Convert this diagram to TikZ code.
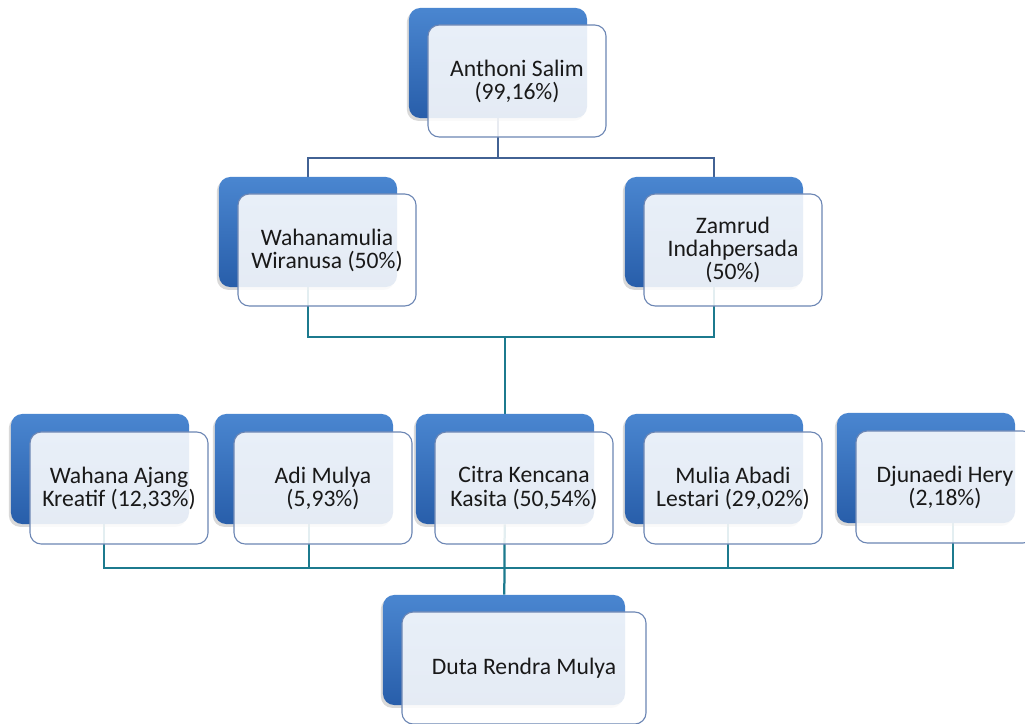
\documentclass[tikz,border=0pt]{standalone}
\usepackage{fontspec}
\setmainfont{Carlito}
\usetikzlibrary{calc,shadows,backgrounds}
\definecolor{boxblue}{RGB}{74,134,208}
\definecolor{boxdeep}{RGB}{40,94,170}
\definecolor{boxedge}{RGB}{108,134,180}
\definecolor{ownline}{RGB}{66,98,148}
\definecolor{subline}{RGB}{28,122,142}
\begin{document}
\begin{tikzpicture}[x=0.025cm,y=-0.025cm,
  back box/.style={rectangle,rounded corners=8pt,top color=boxblue,bottom color=boxdeep,
    minimum width=4.45cm,minimum height=2.75cm,
    drop shadow={shadow xshift=-1.5pt,shadow yshift=-2pt,opacity=0.3}},
  front box/.style={rectangle,rounded corners=8pt,draw=boxedge,line width=0.8pt,
    fill=white,fill opacity=0.88,text opacity=1,text=black!90,align=center,
    minimum width=4.45cm,minimum height=2.8cm,font=\fontsize{16.8}{16.4}\selectfont},
  own/.style={draw=ownline,line width=1.1pt},
  sub/.style={draw=subline,line width=1.6pt}]
  \useasboundingbox (0,0) rectangle (1025,723);
  \clip (0,0) rectangle (1025,723);
  % owner
  \node[back box] (anthoniB) at (498,63) {};
  \node[front box] (anthoni) at ([shift={(19,18)}]anthoniB.center) {Anthoni Salim\\(99,16\%)};
  % holding companies
  \node[back box] (wahanamuliaB) at (308,232) {};
  \node[front box] (wahanamulia) at ([shift={(19,18)}]wahanamuliaB.center) {Wahanamulia\\Wiranusa (50\%)};
  \node[back box] (zamrudB) at (714,232) {};
  \node[front box] (zamrud) at ([shift={(19,18)}]zamrudB.center) {Zamrud\\Indahpersada\\(50\%)};
  % shareholders
  \node[back box] (wahanaAjangB) at (100,469) {};
  \node[front box] (wahanaAjang) at ([shift={(19,19)}]wahanaAjangB.center) {Wahana Ajang\\Kreatif (12,33\%)};
  \node[back box] (adiMulyaB) at (304,469) {};
  \node[front box] (adiMulya) at ([shift={(19,19)}]adiMulyaB.center) {Adi Mulya\\(5,93\%)};
  \node[back box] (citraB) at (505,469) {};
  \node[front box] (citra) at ([shift={(19,19)}]citraB.center) {Citra Kencana\\Kasita (50,54\%)};
  \node[back box] (muliaB) at (714,469) {};
  \node[front box] (mulia) at ([shift={(19,19)}]muliaB.center) {Mulia Abadi\\Lestari (29,02\%)};
  \node[back box] (djunaediB) at (926,468) {};
  \node[front box] (djunaedi) at ([shift={(19,19)}]djunaediB.center) {Djunaedi Hery\\(2,18\%)};
  % company
  \node[back box,minimum width=6.05cm] (dutaB) at (504,650) {};
  \node[front box,minimum width=6.1cm] (duta) at ([shift={(20,18)}]dutaB.center) {Duta Rendra Mulya};
  % connectors
  \coordinate (bus1) at (498,158);
  \coordinate (bus2) at (505,337);
  \coordinate (bus3) at (505,568);
  \begin{pgfonlayer}{background}
    \draw[own] (anthoniB) -- (bus1);
    \draw[own] (bus1) -| (wahanamuliaB);
    \draw[own] (bus1) -| (zamrudB);
    \draw[sub] (wahanamuliaB) |- (bus2);
    \draw[sub] (zamrudB) |- (bus2);
    \draw[sub] (bus2) -- (citraB);
    \draw[sub] ($(wahanaAjangB)+(4,0)$) |- (bus3);
    \draw[sub] ($(adiMulyaB)+(5,0)$) |- (bus3);
    \draw[sub] ($(muliaB)+(14,0)$) |- (bus3);
    \draw[sub] ($(djunaediB)+(27,0)$) |- (bus3);
    \draw[sub] (citraB) -- (dutaB);
  \end{pgfonlayer}
\end{tikzpicture}
\end{document}
